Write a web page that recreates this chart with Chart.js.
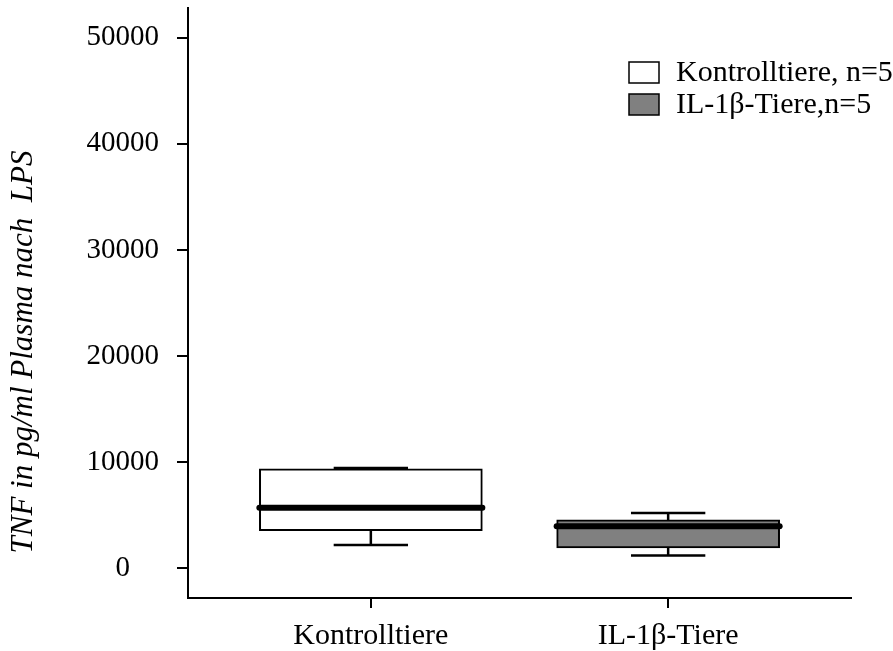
<!DOCTYPE html>
<html>
<head>
<meta charset="utf-8">
<script src="https://cdn.jsdelivr.net/npm/chart.js@4.4.0/dist/chart.umd.min.js"></script>
<style>
  html, body { margin: 0; padding: 0; background: #ffffff; }
  #wrap { width: 893px; height: 651px; }
</style>
</head>
<body>
<div id="wrap"><canvas id="chart" width="893" height="651"></canvas></div>
<script>
// Groups and box plot values
const categories = ['Kontrolltiere', 'IL-1\u03b2-Tiere'];
const legendLabels = ['Kontrolltiere, n=5', 'IL-1\u03b2-Tiere,n=5'];
const whiskerLow = [2200, 1200];
const quartile1 = [3550, 1920];
const medians = [5700, 3950];
const quartile3 = [9370, 4560];
const whiskerHigh = [9450, 5200];
const boxColors = ['#ffffff', '#808080'];
const yTicks = [0, 10000, 20000, 30000, 40000, 50000];
const yTitle = 'TNF in pg/ml Plasma nach  LPS';

const serif = "'Liberation Serif', 'Times New Roman', serif";

// whiskers + median drawn on top of the floating bars
const boxWhiskers = {
  id: 'boxWhiskers',
  afterDatasetsDraw(chart) {
    const ctx = chart.ctx;
    const xs = chart.scales.x, ys = chart.scales.y;
    ctx.save();
    ctx.strokeStyle = '#000000';
    categories.forEach((c, i) => {
      const cx = xs.getPixelForValue(i + 1);
      const bar = chart.getDatasetMeta(i).data[0];
      const half = bar.width / 2;
      const cap = bar.width / 6;
      const yLo = ys.getPixelForValue(whiskerLow[i]);
      const yQ1 = ys.getPixelForValue(quartile1[i]);
      const yQ3 = ys.getPixelForValue(quartile3[i]);
      const yHi = ys.getPixelForValue(whiskerHigh[i]);
      const yMed = ys.getPixelForValue(medians[i]);
      ctx.lineWidth = 2.5;
      ctx.lineCap = 'butt';
      ctx.beginPath();
      ctx.moveTo(cx, yQ1); ctx.lineTo(cx, yLo);
      ctx.moveTo(cx - cap, yLo); ctx.lineTo(cx + cap, yLo);
      ctx.moveTo(cx, yQ3); ctx.lineTo(cx, yHi);
      ctx.moveTo(cx - cap, yHi); ctx.lineTo(cx + cap, yHi);
      ctx.stroke();
      ctx.lineWidth = 6;
      ctx.lineCap = 'round';
      ctx.beginPath();
      ctx.moveTo(cx - half, yMed); ctx.lineTo(cx + half, yMed);
      ctx.stroke();
    });
    ctx.restore();
  }
};

// legend in the upper right corner + rotated y title
const extras = {
  id: 'extras',
  afterDraw(chart) {
    const ctx = chart.ctx;
    const area = chart.chartArea;
    ctx.save();
    ctx.font = '30px ' + serif;
    ctx.textBaseline = 'middle';
    ctx.textAlign = 'left';
    chart.data.datasets.forEach((ds, i) => {
      const x = area.right - 222;
      const y = area.top + 64 + i * 32;
      ctx.fillStyle = ds.backgroundColor;
      ctx.fillRect(x, y - 10, 30, 21);
      ctx.lineWidth = 1.5;
      ctx.strokeStyle = '#000000';
      ctx.strokeRect(x, y - 10, 30, 21);
      ctx.fillStyle = '#000000';
      ctx.fillText(ds.label, x + 47, y + 1);
    });
    ctx.font = 'italic 31px ' + serif;
    ctx.translate(24, (area.top + area.bottom) / 2 + 49);
    ctx.rotate(-Math.PI / 2);
    ctx.textAlign = 'center';
    ctx.fillText(yTitle, 0, 0);
    ctx.restore();
  }
};

const datasets = categories.map((c, i) => ({
  label: legendLabels[i],
  data: [{ x: i + 1, y: [quartile1[i], quartile3[i]] }],
  backgroundColor: boxColors[i],
  borderColor: '#000000',
  borderWidth: 2,
  borderSkipped: false,
  barThickness: 223,
  grouped: false
}));

new Chart(document.getElementById('chart'), {
  type: 'bar',
  data: { datasets: datasets },
  options: {
    responsive: false,
    animation: false,
    layout: { padding: { top: 8, right: 42, left: 0, bottom: 0 } },
    plugins: {
      legend: { display: false },
      tooltip: { enabled: false }
    },
    scales: {
      x: {
        type: 'linear',
        offset: false,
        min: 0.385,
        max: 2.615,
        afterBuildTicks: (scale) => { scale.ticks = categories.map((c, i) => ({ value: i + 1 })); },
        afterFit: (scale) => {
          scale.height = 53;
          scale.paddingLeft = 0;
          scale.paddingRight = 0;
        },
        ticks: {
          color: '#000000',
          font: { family: serif, size: 30 },
          padding: 10,
          maxRotation: 0,
          autoSkip: false,
          callback: (v) => categories[v - 1]
        },
        grid: { offset: false, drawOnChartArea: false, tickLength: 10, color: '#000000', lineWidth: 2 },
        border: { display: true, color: '#000000', width: 2 }
      },
      y: {
        min: -2800,
        max: 52800,
        afterBuildTicks: (scale) => { scale.ticks = yTicks.map(v => ({ value: v })); },
        afterFit: (scale) => {
          scale.width = 188;
          scale.paddingTop = 0;
          scale.paddingBottom = 0;
        },
        ticks: {
          color: '#000000',
          font: { family: serif, size: 29 },
          padding: 18,
          crossAlign: 'center',
          callback: (v) => String(v)
        },
        grid: { drawOnChartArea: false, tickLength: 11, color: '#000000', lineWidth: 2 },
        border: { display: true, color: '#000000', width: 2 }
      }
    }
  },
  plugins: [boxWhiskers, extras]
});
</script>
</body>
</html>
